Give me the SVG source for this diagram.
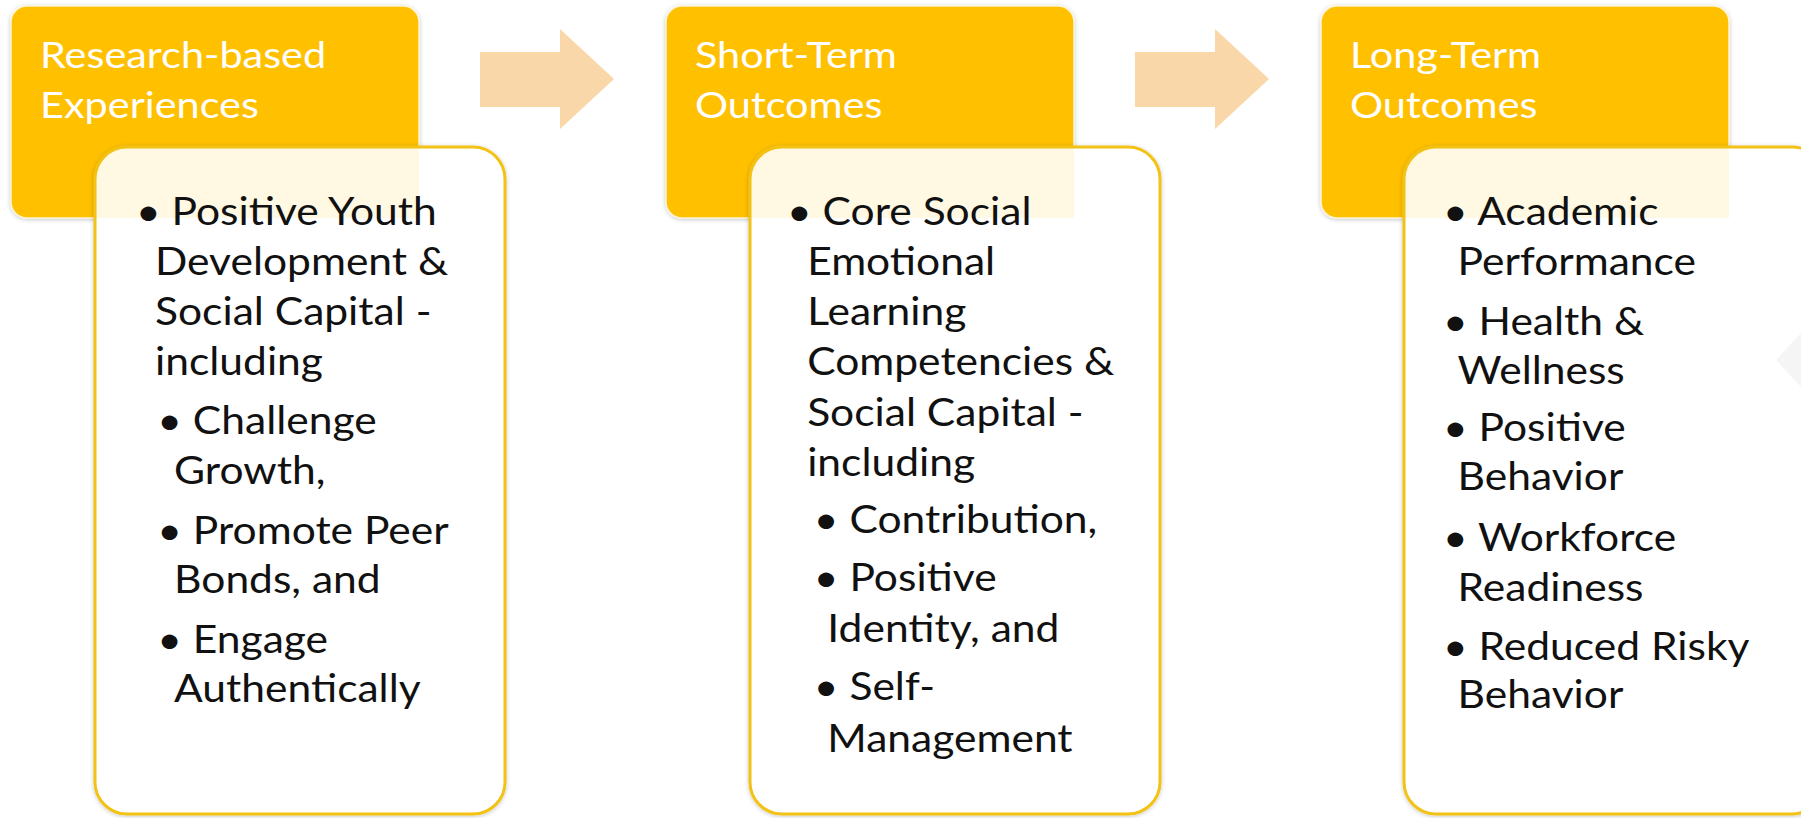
<svg xmlns="http://www.w3.org/2000/svg" width="1801" height="818" viewBox="0 0 1801 818">
  <defs>
    <filter id="soft" x="-10%" y="-10%" width="120%" height="120%">
      <feDropShadow dx="0" dy="1" stdDeviation="2" flood-color="#000" flood-opacity="0.22"/>
    </filter>
    <clipPath id="card1"><rect x="95" y="147" width="410" height="667" rx="32"/></clipPath>
    <clipPath id="card2"><rect x="750" y="147" width="410" height="667" rx="32"/></clipPath>
    <clipPath id="card3"><rect x="1404" y="147" width="420" height="667" rx="32"/></clipPath>
    <style>
      .head { fill: #FFC000; stroke: #FFF4D6; stroke-width: 1.5; filter: url(#soft); }
      .card { fill: #FFFFFF; stroke: #F2C218; stroke-width: 3; filter: url(#soft); }
      .tint { fill: #FFC000; fill-opacity: 0.11; }
      .title { font-family: Lato, "Open Sans", sans-serif; font-size: 37px; fill: #FFFFFF; }
      .body { font-family: Lato, "Open Sans", sans-serif; font-size: 38px; fill: #111111; }
      .arrow { fill: #FAD7A8; }
    </style>
  </defs>

  <rect width="1801" height="818" fill="#FFFFFF"/>

  <!-- flow arrows between the stages -->
  <g id="connectors">
    <polygon class="arrow" points="480,52 560,52 560,29 614,79 560,129 560,107 480,107"/>
    <polygon class="arrow" points="1135,52 1215,52 1215,29 1269,79 1215,129 1215,107 1135,107"/>
  </g>

  <!-- stage 1 -->
  <g id="research-based-experiences">
    <rect class="head" x="11" y="6" width="408" height="212" rx="16"/>
    <text class="title" transform="translate(40 0) scale(1.12 1)"><tspan x="0" y="68">Research-based</tspan><tspan x="0" y="118">Experiences</tspan></text>
    <rect class="card" x="95" y="147" width="410" height="667" rx="32"/>
    <rect class="tint" x="95" y="147" width="324" height="71" clip-path="url(#card1)"/>
    <text class="body" transform="translate(136 0) scale(1.12 1)">
      <tspan x="0" y="225">• Positive Youth</tspan>
      <tspan x="17" y="275">Development &amp;</tspan>
      <tspan x="17" y="325">Social Capital -</tspan>
      <tspan x="17" y="375">including</tspan>
      <tspan x="19" y="434">• Challenge</tspan>
      <tspan x="34" y="484">Growth,</tspan>
      <tspan x="19" y="544">• Promote Peer</tspan>
      <tspan x="34" y="593">Bonds, and</tspan>
      <tspan x="19" y="653">• Engage</tspan>
      <tspan x="34" y="702">Authentically</tspan>
    </text>
  </g>

  <!-- stage 2 -->
  <g id="short-term-outcomes">
    <rect class="head" x="666" y="6" width="408" height="212" rx="16"/>
    <text class="title" transform="translate(695 0) scale(1.12 1)"><tspan x="0" y="68">Short-Term</tspan><tspan x="0" y="118">Outcomes</tspan></text>
    <rect class="card" x="750" y="147" width="410" height="667" rx="32"/>
    <rect class="tint" x="750" y="147" width="324" height="71" clip-path="url(#card2)"/>
    <text class="body" transform="translate(787 0) scale(1.12 1)">
      <tspan x="0" y="225">• Core Social</tspan>
      <tspan x="18" y="275">Emotional</tspan>
      <tspan x="18" y="325">Learning</tspan>
      <tspan x="18" y="375">Competencies &amp;</tspan>
      <tspan x="18" y="426">Social Capital -</tspan>
      <tspan x="18" y="476">including</tspan>
      <tspan x="24" y="533">• Contribution,</tspan>
      <tspan x="24" y="591">• Positive</tspan>
      <tspan x="36" y="642">Identity, and</tspan>
      <tspan x="24" y="700">• Self-</tspan>
      <tspan x="36" y="752">Management</tspan>
    </text>
  </g>

  <!-- stage 3 -->
  <g id="long-term-outcomes">
    <rect class="head" x="1321" y="6" width="408" height="212" rx="16"/>
    <text class="title" transform="translate(1350 0) scale(1.12 1)"><tspan x="0" y="68">Long-Term</tspan><tspan x="0" y="118">Outcomes</tspan></text>
    <rect class="card" x="1404" y="147" width="420" height="667" rx="32"/>
    <rect class="tint" x="1404" y="147" width="325" height="71" clip-path="url(#card3)"/>
    <polygon points="1801,333 1776,360 1801,387" fill="#F5F5F5"/>
    <text class="body" transform="translate(1443 0) scale(1.12 1)">
      <tspan x="0" y="225">• Academic</tspan>
      <tspan x="13" y="275">Performance</tspan>
      <tspan x="0" y="335">• Health &amp;</tspan>
      <tspan x="13" y="384">Wellness</tspan>
      <tspan x="0" y="441">• Positive</tspan>
      <tspan x="13" y="490">Behavior</tspan>
      <tspan x="0" y="551">• Workforce</tspan>
      <tspan x="13" y="601">Readiness</tspan>
      <tspan x="0" y="660">• Reduced Risky</tspan>
      <tspan x="13" y="708">Behavior</tspan>
    </text>
  </g>
</svg>
